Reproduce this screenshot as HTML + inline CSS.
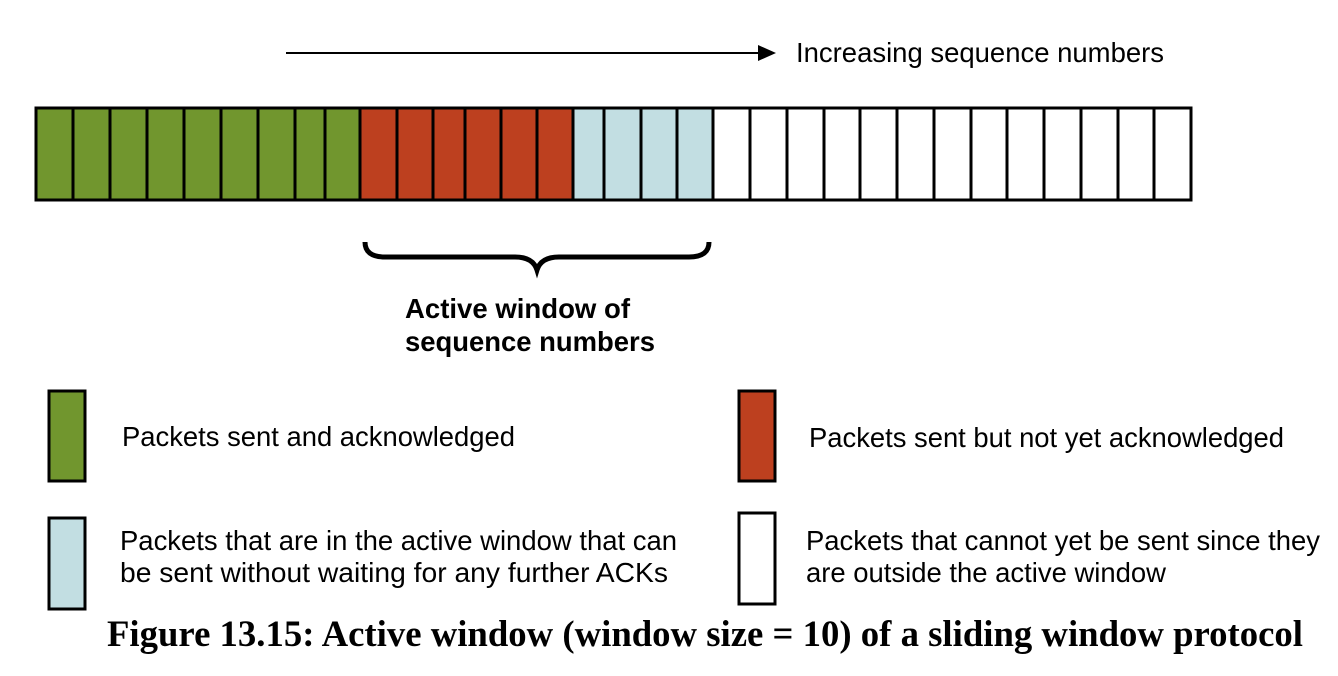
<!DOCTYPE html>
<html><head><meta charset="utf-8"><style>
body{margin:0;background:#fff;}
svg{display:block;}
text{font-family:"Liberation Sans",sans-serif;font-size:27.4px;fill:#000;}
</style></head><body>
<svg width="1338" height="676" xmlns="http://www.w3.org/2000/svg">
<line x1="286" y1="53" x2="762" y2="53" stroke="#000" stroke-width="2"/>
<polygon points="776,53 758,45 758,61" fill="#000"/>
<text x="796" y="62" textLength="368" lengthAdjust="spacingAndGlyphs">Increasing sequence numbers</text>
<g stroke="#000" stroke-width="3">
<rect x="36" y="108" width="324" height="92" fill="#71962e"/>
<rect x="360" y="108" width="213" height="92" fill="#bd401f"/>
<rect x="573" y="108" width="140" height="92" fill="#c2dee2"/>
<rect x="713" y="108" width="478" height="92" fill="#fff"/>
<path d="M73 108V200M110 108V200M147 108V200M184 108V200M221 108V200M258 108V200M295 108V200M325 108V200M397 108V200M433 108V200M465 108V200M501 108V200M537 108V200M604 108V200M641 108V200M677 108V200M750 108V200M787 108V200M824 108V200M860 108V200M897 108V200M934 108V200M971 108V200M1007 108V200M1044 108V200M1081 108V200M1118 108V200M1154 108V200"/>
</g>
<path d="M365 242 Q365 257 385 257 L515 257 Q533 257 537 270 Q541 257 559 257 L689 257 Q709 257 709 242" fill="none" stroke="#000" stroke-width="5"/>
<text x="405" y="318" font-weight="bold" textLength="225" lengthAdjust="spacingAndGlyphs">Active window of</text>
<text x="405" y="351" font-weight="bold" textLength="250" lengthAdjust="spacingAndGlyphs">sequence numbers</text>
<g stroke="#000" stroke-width="3">
<rect x="49" y="391" width="36" height="90" fill="#71962e"/>
<rect x="739" y="391" width="36" height="90" fill="#bd401f"/>
<rect x="49" y="518" width="36" height="91" fill="#c2dee2"/>
<rect x="739" y="513" width="36" height="91" fill="#fff"/>
</g>
<text x="122" y="446" textLength="393" lengthAdjust="spacingAndGlyphs">Packets sent and acknowledged</text>
<text x="809" y="447" textLength="475" lengthAdjust="spacingAndGlyphs">Packets sent but not yet acknowledged</text>
<text x="120" y="550" textLength="557" lengthAdjust="spacingAndGlyphs">Packets that are in the active window that can</text>
<text x="120" y="582" textLength="548" lengthAdjust="spacingAndGlyphs">be sent without waiting for any further ACKs</text>
<text x="806" y="550" textLength="514" lengthAdjust="spacingAndGlyphs">Packets that cannot yet be sent since they</text>
<text x="806" y="582" textLength="360" lengthAdjust="spacingAndGlyphs">are outside the active window</text>
<text x="107" y="646" textLength="1196" lengthAdjust="spacingAndGlyphs" style="font-family:'Liberation Serif',serif;font-size:36.5px;font-weight:bold;">Figure 13.15: Active window (window size = 10) of a sliding window protocol</text>
</svg>
</body></html>
